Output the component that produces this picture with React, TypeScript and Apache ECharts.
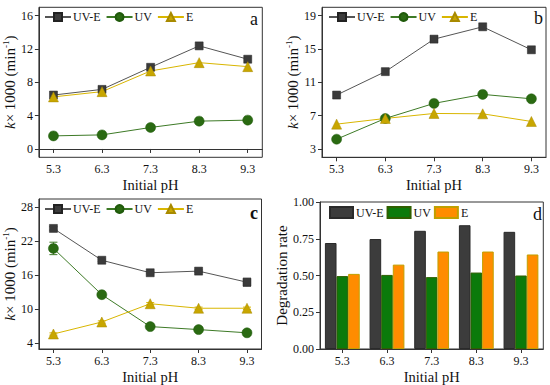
import React, { useEffect, useRef } from "react";
import * as echarts from "echarts";

const pH = [5.3, 6.3, 7.3, 8.3, 9.3];
const pHLabels = ["5.3", "6.3", "7.3", "8.3", "9.3"];
const seriesNames = ["UV-E", "UV", "E"];

const aUVE = [6.47, 7.15, 9.8, 12.37, 10.77];
const aUV = [1.57, 1.69, 2.58, 3.34, 3.46];
const aE = [6.25, 6.88, 9.36, 10.36, 9.88];

const bUVE = [9.47, 12.28, 16.18, 17.66, 14.9];
const bUV = [4.17, 6.66, 8.47, 9.55, 9.02];
const bE = [5.98, 6.66, 7.26, 7.22, 6.3];

const cUVE = [24.3, 18.68, 16.47, 16.76, 14.8];
const cUV = [20.77, 12.6, 6.96, 6.43, 5.86];
const cE = [5.65, 7.77, 11.0, 10.2, 10.2];
const cUVEErr = [0.3, 0.2, 0.2, 0.2, 0.7];
const cUVErr = [1.1, 0.3, 0.2, 0.2, 0.2];
const cEErr = [0.2, 0.2, 0.2, 0.2, 0.2];

const dUVE = [0.721, 0.748, 0.804, 0.842, 0.797];
const dUV = [0.496, 0.504, 0.489, 0.52, 0.5];
const dE = [0.511, 0.574, 0.663, 0.663, 0.643];

const aTicks = [0, 4, 8, 12, 16];
const bTicks = [3, 7, 11, 15, 19];
const cTicks = [4, 10, 16, 22, 28];

const FONT = "Liberation Serif";
const AX = "#333333";
const TXT = "#111111";

const lineStyles = [
  { color: "#3b3b3b", line: "#555555", symbol: "rect", size: 8, border: "#222222" },
  { color: "#2a6a12", line: "#3d7a26", symbol: "circle", size: 10, border: "#1f5a0a" },
  { color: "#c8a600", line: "#d9b600", symbol: "triangle", size: 10, border: "#a88a00" },
];

const zip = (ys: number[]) => ys.map((y, i) => [pH[i], y]);

function gridOpt(left: number, top: number, width: number, height: number) {
  return {
    left,
    top,
    width,
    height,
    show: true,
    borderColor: AX,
    borderWidth: 1,
    backgroundColor: "transparent",
    containLabel: false,
  };
}

const xNameStyle = { fontFamily: FONT, fontSize: 14.5, color: TXT, fontWeight: "normal" };

function xValueAxis(gi: number) {
  return {
    type: "value",
    gridIndex: gi,
    min: 5.0,
    max: 9.6,
    name: "Initial pH",
    nameLocation: "middle",
    nameGap: 20,
    nameTextStyle: xNameStyle,
    axisLine: { show: true, lineStyle: { color: AX, width: 1 } },
    axisTick: { show: true, length: 4, customValues: pH, lineStyle: { color: AX } },
    axisLabel: {
      customValues: pH,
      formatter: (v: number) => v.toFixed(1),
      fontFamily: FONT,
      fontSize: 12,
      color: TXT,
      margin: 6,
    },
    splitLine: { show: false },
  };
}

const yName = "{i|k}× 1000 (min{s|-1})";
const yNameStyle = {
  fontFamily: FONT,
  fontSize: 15,
  color: TXT,
  rich: {
    i: { fontFamily: FONT, fontSize: 15, fontStyle: "italic", color: TXT },
    s: { fontFamily: FONT, fontSize: 9, color: TXT, verticalAlign: "top", padding: [0, 0, 8, 0] },
  },
};

function yValueAxis(gi: number, min: number, max: number, ticks: number[]) {
  return {
    type: "value",
    gridIndex: gi,
    min,
    max,
    name: yName,
    nameLocation: "middle",
    nameRotate: 90,
    nameGap: 15,
    nameTextStyle: yNameStyle,
    axisLine: { show: true, lineStyle: { color: AX, width: 1 } },
    axisTick: { show: true, length: 4, customValues: ticks, lineStyle: { color: AX } },
    axisLabel: {
      customValues: ticks,
      fontFamily: FONT,
      fontSize: 12,
      color: TXT,
      margin: 6,
    },
    splitLine: { show: false },
  };
}

function lineSeries(gi: number, arrs: number[][]) {
  return arrs.map((arr, k) => ({
    type: "line",
    name: seriesNames[k],
    xAxisIndex: gi,
    yAxisIndex: gi,
    data: zip(arr),
    symbol: lineStyles[k].symbol,
    symbolSize: lineStyles[k].size,
    itemStyle: { color: lineStyles[k].color, borderColor: lineStyles[k].border, borderWidth: 0.5 },
    lineStyle: { color: lineStyles[k].line, width: 1 },
    z: 3,
  }));
}

function errSeries(gi: number, vals: number[], errs: number[], color: string) {
  return {
    type: "custom",
    name: "err" + gi + color,
    xAxisIndex: gi,
    yAxisIndex: gi,
    z: 2,
    silent: true,
    data: vals.map((v, i) => [pH[i], v - errs[i], v + errs[i]]),
    renderItem: (params: any, api: any) => {
      const x = api.value(0);
      const p1 = api.coord([x, api.value(1)]);
      const p2 = api.coord([x, api.value(2)]);
      const w = 4;
      const st = { stroke: color, lineWidth: 1 };
      return {
        type: "group",
        children: [
          { type: "line", shape: { x1: p1[0], y1: p1[1], x2: p2[0], y2: p2[1] }, style: st },
          { type: "line", shape: { x1: p1[0] - w, y1: p1[1], x2: p1[0] + w, y2: p1[1] }, style: st },
          { type: "line", shape: { x1: p2[0] - w, y1: p2[1], x2: p2[0] + w, y2: p2[1] }, style: st },
        ],
      };
    },
  };
}

function lineLegend(left: number, top: number) {
  return {
    left,
    top,
    padding: 0,
    orient: "horizontal",
    data: seriesNames,
    itemWidth: 26,
    itemHeight: 10,
    itemGap: 5,
    textStyle: { fontFamily: FONT, fontSize: 12, color: TXT, padding: [0, 0, 0, -3] },
  };
}

const barColors = [
  { color: "#3c3c3c", border: "#2a2a2a" },
  { color: "#0b7a0b", border: "#2f5f00" },
  { color: "#ff8c00", border: "#c0a000" },
];

const labelStyle = (bold: boolean) => ({
  fontFamily: FONT,
  fontSize: 18,
  fontWeight: bold ? "bold" : "normal",
  color: TXT,
});

export default function App() {
  const ref = useRef<HTMLDivElement>(null);
  useEffect(() => {
    document.body.style.margin = "0";
    if (!ref.current) return;
    const chart = echarts.init(ref.current, undefined, { renderer: "svg" });
    const dNames = seriesNames.map((n) => n + " ");
    const option: any = {
      animation: false,
      backgroundColor: "#ffffff",
      textStyle: { fontFamily: FONT },
      grid: [
        gridOpt(37.7, 7.3, 224.6, 150),
        gridOpt(322, 7.3, 224, 150),
        gridOpt(37.5, 199, 224, 152.4),
        gridOpt(320, 202, 223.3, 149.3),
      ],
      xAxis: [
        xValueAxis(0),
        xValueAxis(1),
        xValueAxis(2),
        {
          type: "category",
          gridIndex: 3,
          data: pHLabels,
          boundaryGap: true,
          name: "Initial pH",
          nameLocation: "middle",
          nameGap: 20,
          nameTextStyle: xNameStyle,
          axisLine: { show: true, lineStyle: { color: AX, width: 1 } },
          axisTick: { show: true, alignWithLabel: true, length: 4, lineStyle: { color: AX } },
          axisLabel: { fontFamily: FONT, fontSize: 12, color: TXT, margin: 6 },
          splitLine: { show: false },
        },
      ],
      yAxis: [
        yValueAxis(0, -1, 17, aTicks),
        yValueAxis(1, 2, 20, bTicks),
        yValueAxis(2, 3, 29.5, cTicks),
        {
          type: "value",
          gridIndex: 3,
          min: 0,
          max: 1,
          interval: 0.25,
          name: "Degradation rate",
          nameLocation: "middle",
          nameRotate: 90,
          nameGap: 30,
          nameTextStyle: { fontFamily: FONT, fontSize: 15, color: TXT },
          axisLine: { show: true, lineStyle: { color: AX, width: 1 } },
          axisTick: { show: true, length: 4, lineStyle: { color: AX } },
          axisLabel: {
            formatter: (v: number) => v.toFixed(2),
            fontFamily: FONT,
            fontSize: 12,
            color: TXT,
            margin: 6,
          },
          splitLine: { show: false },
        },
      ],
      legend: [
        lineLegend(44, 11),
        lineLegend(328, 11),
        lineLegend(44, 203),
        {
          left: 329,
          top: 206,
          padding: 0,
          data: dNames,
          icon: "rect",
          itemWidth: 23,
          itemHeight: 11,
          itemGap: 3,
          formatter: (n: string) => n.trim(),
          textStyle: { fontFamily: FONT, fontSize: 12, color: TXT, padding: [0, 0, 0, -2] },
        },
      ],
      title: [
        { text: "a", left: 250, top: 10, padding: 0, textStyle: labelStyle(false) },
        { text: "b", left: 534, top: 9, padding: 0, textStyle: labelStyle(false) },
        { text: "c", left: 250, top: 204, padding: 0, textStyle: labelStyle(true) },
        { text: "d", left: 533, top: 205, padding: 0, textStyle: labelStyle(false) },
      ],
      series: [
        ...lineSeries(0, [aUVE, aUV, aE]),
        ...lineSeries(1, [bUVE, bUV, bE]),
        errSeries(2, cUVE, cUVEErr, lineStyles[0].line),
        errSeries(2, cUV, cUVErr, lineStyles[1].line),
        errSeries(2, cE, cEErr, lineStyles[2].line),
        ...lineSeries(2, [cUVE, cUV, cE]),
        ...[dUVE, dUV, dE].map((arr, k) => ({
          type: "bar",
          name: dNames[k],
          xAxisIndex: 3,
          yAxisIndex: 3,
          data: arr,
          barGap: "0%",
          barCategoryGap: "22%",
          itemStyle: { color: barColors[k].color, borderColor: barColors[k].border, borderWidth: 1 },
        })),
      ],
    };
    chart.setOption(option);
    return () => chart.dispose();
  }, []);
  return <div ref={ref} style={{ width: 550, height: 385 }} />;
}
